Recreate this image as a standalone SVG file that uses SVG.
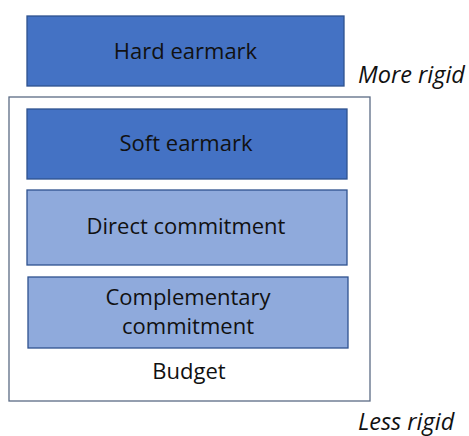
<svg xmlns="http://www.w3.org/2000/svg" width="469" height="436" viewBox="0 0 469 436">
  <style>
    .dark { fill: #4472C4; stroke: #2F528F; stroke-width: 1.3; }
    .light { fill: #8FAADC; stroke: #2F528F; stroke-width: 1.3; }
    .frame { fill: #FFFFFF; stroke: #5B6B84; stroke-width: 1.3; }
    text { font-family: "Open Sans", "Noto Sans", "DejaVu Sans", sans-serif; font-size: 22px; fill: #111111; }
    .label { text-anchor: middle; }
    .scale { font-style: italic; font-size: 23.5px; }
  </style>
  <rect width="469" height="436" fill="#FFFFFF"/>

  <g id="hard-earmark">
    <rect class="dark" x="27" y="16" width="317" height="70"/>
    <text class="label" x="185.5" y="59">Hard earmark</text>
  </g>

  <g id="budget">
    <rect class="frame" x="9" y="97" width="361" height="304"/>
    <text class="label" x="189" y="379">Budget</text>
  </g>

  <g id="soft-earmark">
    <rect class="dark" x="27" y="109" width="320" height="70"/>
    <text class="label" x="186" y="151">Soft earmark</text>
  </g>

  <g id="direct-commitment">
    <rect class="light" x="27" y="190" width="320" height="75"/>
    <text class="label" x="186" y="234">Direct commitment</text>
  </g>

  <g id="complementary-commitment">
    <rect class="light" x="28" y="277" width="320" height="71"/>
    <text class="label" x="188" y="305">Complementary</text>
    <text class="label" x="188" y="334">commitment</text>
  </g>

  <g id="rigidity-scale">
    <text class="scale" x="358" y="83">More rigid</text>
    <text class="scale" x="358" y="430">Less rigid</text>
  </g>

  <g id="connectors"></g>
</svg>
